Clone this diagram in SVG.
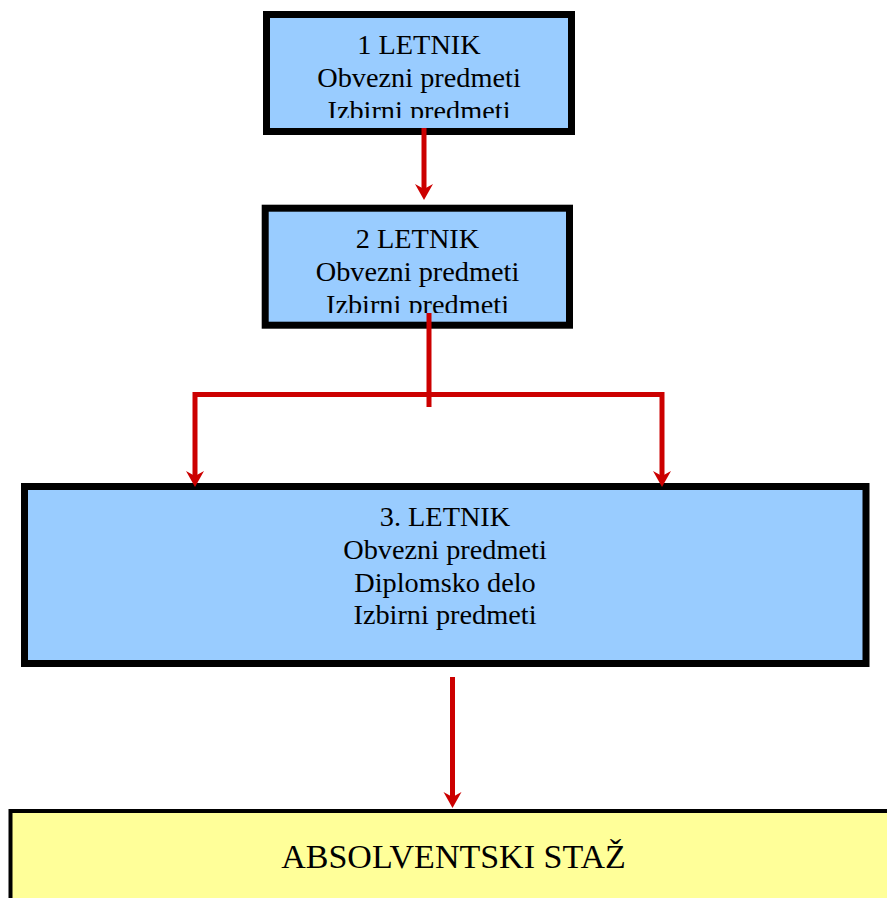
<svg xmlns="http://www.w3.org/2000/svg" width="887" height="898" viewBox="0 0 887 898">
<style>
.box{fill:#99CCFF;stroke:#000;stroke-width:7}
.yel{fill:#FFFF99;stroke:#000;stroke-width:4}
.t{font-family:"Liberation Serif","Times New Roman",serif;font-size:28.3px;fill:#000;text-anchor:middle}
.big{font-size:34px}
.con{fill:none;stroke:#CC0000;stroke-width:5}
</style>
<defs>
<marker id="ah" markerUnits="userSpaceOnUse" viewBox="0 -10 17 20" markerWidth="17" markerHeight="20" refX="6" refY="0" orient="auto" overflow="visible">
<path d="M16,0 L0,-9 L5,0 L0,9 Z" fill="#CC0000"/>
</marker>
<clipPath id="c1"><rect x="266" y="14" width="306" height="104"/></clipPath>
<clipPath id="c2"><rect x="265" y="208" width="306" height="105"/></clipPath>
</defs>
<g id="n1">
<rect class="box" x="266.5" y="14.5" width="305" height="117"/>
<g clip-path="url(#c1)">
<text class="t" x="419" y="54">1 LETNIK</text>
<text class="t" x="419" y="87">Obvezni predmeti</text>
<text class="t" x="419" y="120">Izbirni predmeti</text>
</g>
</g>
<g id="n2">
<rect class="box" x="265.2" y="208.2" width="304.3" height="117"/>
<g clip-path="url(#c2)">
<text class="t" x="417.5" y="248">2 LETNIK</text>
<text class="t" x="417.5" y="281">Obvezni predmeti</text>
<text class="t" x="417.5" y="314">Izbirni predmeti</text>
</g>
</g>
<g id="n3">
<rect class="box" x="24.5" y="486.5" width="841.5" height="177"/>
<text class="t" x="445" y="526">3. LETNIK</text>
<text class="t" x="445" y="558.5">Obvezni predmeti</text>
<text class="t" x="445" y="591.5">Diplomsko delo</text>
<text class="t" x="445" y="624">Izbirni predmeti</text>
</g>
<g id="n4">
<rect class="yel" x="10.5" y="811" width="890" height="100"/>
<text class="t big" x="453.5" y="868">ABSOLVENTSKI STAŽ</text>
</g>
<g id="connectors">
<line class="con" x1="424" y1="128" x2="424" y2="190" marker-end="url(#ah)"/>
<line class="con" x1="429" y1="313" x2="429" y2="407"/>
<line class="con" x1="195" y1="394.5" x2="662.5" y2="394.5"/>
<line class="con" x1="195" y1="392" x2="195" y2="477" marker-end="url(#ah)"/>
<line class="con" x1="662" y1="392" x2="662" y2="477" marker-end="url(#ah)"/>
<line class="con" x1="452.5" y1="677" x2="452.5" y2="798" marker-end="url(#ah)"/>
</g>
</svg>
